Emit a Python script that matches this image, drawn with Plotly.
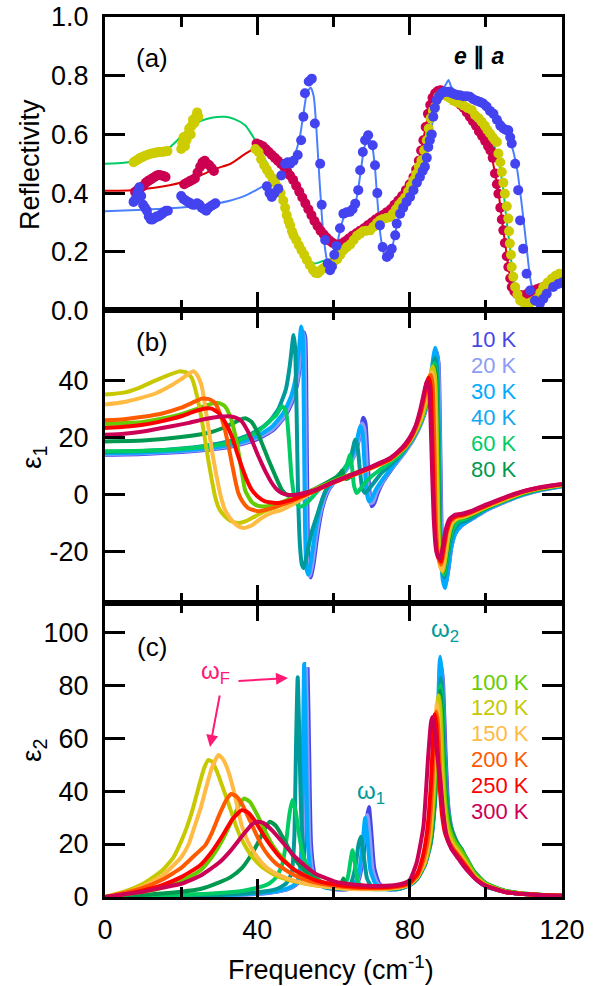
import plotly.graph_objects as go

# ---------------- panel (a) reflectivity data (frequency, R) ----------------
refl_10K_data = [(7.5,0.37),(8.0,0.38),(8.5,0.40),(9.0,0.42),(9.5,0.39),(10.0,0.36),(10.5,0.35),(11.0,0.34),(11.5,0.32),(12.0,0.31),(12.5,0.31),(13.0,0.315),(13.5,0.32),(14.0,0.32),(14.5,0.325),(15.0,0.33),(15.5,0.335),(16.0,0.34),(16.5,0.34),
    (20.0,0.39),(20.6,0.38),(21.2,0.375),(21.8,0.37),(22.4,0.365),(23.0,0.36),(23.6,0.36),(24.2,0.365),(24.8,0.36),(25.4,0.35),(26.0,0.345),(26.6,0.34),(27.2,0.35),(27.8,0.355),(28.4,0.36),(29.0,0.365),
    (42.5,0.423),(43.2,0.40),(43.8,0.387),(44.5,0.40),(45.5,0.415),(46.3,0.46),(47.3,0.50),(48.0,0.505),(48.6,0.50),(49.5,0.51),(50.6,0.53),(51.5,0.58),(52.1,0.66),(52.5,0.74),(53.5,0.78),(54.3,0.79),(55.1,0.637),(56.5,0.50),(56.9,0.36),(57.8,0.24),(58.5,0.16),(59.1,0.137),(59.6,0.15),(60.2,0.19),(60.8,0.22),(61.7,0.28),(62.6,0.33),(63.5,0.335),(64.3,0.336),(65.0,0.345),(65.7,0.364),(66.5,0.41),(67.0,0.478),(67.7,0.54),(68.3,0.58),(69.1,0.597),(70.3,0.563),(70.9,0.495),(71.5,0.40),(72.2,0.29),(72.9,0.216),(74.0,0.182),(74.6,0.19),(75.3,0.21),(76.2,0.256),(76.6,0.296),(77.5,0.33),(78.3,0.35),(79.2,0.37),(80.1,0.387),(81.0,0.41),(81.9,0.435),(82.7,0.455),(83.4,0.475),(84.0,0.49),(84.5,0.52),(84.9,0.557),(85.3,0.58),(85.8,0.60),(86.2,0.66),(86.6,0.69),(87.1,0.717),(87.7,0.73),(88.4,0.74),(89.0,0.745),(89.7,0.745),(90.4,0.745),(91.1,0.74),(91.8,0.737),(92.4,0.734),(93.2,0.733),(94.1,0.73),(95.0,0.73),(95.8,0.728),(96.7,0.72),(97.6,0.715),(98.5,0.71),(99.3,0.705),(100.2,0.695),(101.1,0.68),(102.0,0.67),(102.9,0.65),(103.8,0.63),(104.6,0.62),(105.3,0.615),(105.9,0.614),(106.4,0.59),(106.8,0.569),(107.7,0.50),(108.5,0.41),(109.0,0.307),(109.8,0.21),(110.7,0.125),(111.6,0.068),(112.9,0.034),(114.2,0.024),(115.1,0.04),(116.0,0.057),(117.7,0.08),(119.0,0.09),(120.0,0.095)]

refl_300K_data = [(7.9,0.404),(8.5,0.41),(9.1,0.415),(9.6,0.42),(10.1,0.425),(10.7,0.435),(11.2,0.44),(11.8,0.445),(12.4,0.45),(13.0,0.455),(13.6,0.46),(14.2,0.462),(14.8,0.46),(15.4,0.458),(15.9,0.455),
    (20.8,0.43),(21.5,0.435),(22.2,0.44),(22.9,0.445),(23.6,0.45),(24.3,0.47),(25.0,0.49),(25.6,0.505),(26.2,0.51),(26.8,0.50),(27.4,0.495),(28.0,0.485),(28.6,0.475),
    (39.8,0.569),(40.6,0.565),(41.4,0.56),(42.2,0.55),(43.0,0.54),(43.8,0.53),(44.6,0.52),(45.4,0.51),(46.2,0.50),(47.0,0.49),(47.8,0.475),(48.6,0.46),(49.4,0.445),(50.2,0.425),(51.0,0.405),(51.8,0.385),(52.6,0.365),(53.4,0.345),(54.2,0.325),(55.0,0.305),(55.8,0.288),(56.6,0.272),(57.4,0.26),(58.2,0.248),(59.0,0.238),(59.8,0.23),(60.6,0.225),(61.4,0.224),(62.2,0.228),(63.0,0.235),(64.0,0.245),(65.0,0.255),(66.0,0.263),(67.0,0.272),(68.0,0.28),(69.0,0.29),(70.0,0.30),(71.0,0.31),(72.0,0.318),(73.0,0.325),(74.0,0.335),(75.0,0.345),(76.0,0.36),(77.0,0.375),(78.0,0.39),(79.0,0.41),(80.0,0.43),(81.0,0.455),(81.7,0.48),(82.4,0.51),(83.0,0.545),(83.6,0.58),(84.2,0.625),(84.8,0.67),(85.4,0.70),(86.0,0.725),(86.7,0.74),(87.4,0.748),(88.1,0.75),(88.8,0.745),(89.5,0.738),(90.2,0.73),(91.0,0.725),(91.8,0.718),(92.6,0.71),(93.4,0.70),(94.2,0.69),(95.0,0.675),(95.8,0.66),(96.6,0.645),(97.4,0.63),(98.2,0.61),(99.0,0.595),(99.8,0.578),(100.6,0.56),(101.2,0.545),(101.8,0.52),(102.4,0.467),(102.9,0.43),(103.3,0.398),(103.8,0.35),(104.2,0.31),(104.6,0.273),(105.0,0.23),(105.5,0.185),(105.9,0.148),(106.4,0.11),(106.8,0.08),(107.5,0.065),(108.1,0.057),(109.0,0.053),(109.8,0.051),(110.7,0.055),(111.6,0.062),(112.5,0.068),(113.4,0.072),(114.3,0.077),(115.1,0.08),(116.0,0.088),(116.9,0.095),(117.7,0.102),(118.6,0.105),(119.5,0.105)]

refl_120K_data = [(7.5,0.505),(8.1,0.51),(8.7,0.515),(9.3,0.52),(9.9,0.523),(10.5,0.527),(11.1,0.53),(11.7,0.533),(12.3,0.535),(12.9,0.537),(13.5,0.538),(14.1,0.54),(14.7,0.54),(15.3,0.541),(15.9,0.542),(16.4,0.543),
    (20.0,0.55),(20.3,0.57),(20.6,0.59),(21.0,0.56),(21.4,0.58),(21.8,0.60),(22.1,0.62),(22.5,0.60),(22.8,0.63),(23.1,0.65),(23.5,0.64),(23.9,0.66),(24.2,0.675),(24.5,0.66),
    (39.5,0.55),(40.3,0.54),(41.0,0.515),(41.8,0.495),(42.5,0.48),(43.2,0.465),(44.0,0.45),(44.7,0.435),(45.4,0.42),(46.1,0.40),(46.8,0.375),(47.3,0.35),(47.7,0.325),(48.2,0.305),(48.6,0.29),(49.1,0.27),(49.5,0.256),(50.2,0.24),(50.9,0.222),(51.6,0.205),(52.3,0.19),(53.0,0.172),(53.8,0.154),(54.6,0.138),(55.3,0.128),(55.9,0.127),(56.5,0.135),(57.2,0.142),(57.8,0.148),(58.6,0.155),(59.4,0.162),(60.2,0.168),(61.0,0.175),(61.8,0.19),(62.6,0.205),(63.5,0.216),(64.4,0.225),(65.3,0.24),(66.2,0.255),(67.0,0.262),(67.8,0.27),(68.7,0.272),(69.6,0.273),(70.5,0.285),(71.4,0.298),(72.2,0.307),(73.0,0.312),(73.9,0.315),(74.8,0.318),(75.6,0.33),(76.4,0.345),(77.2,0.36),(78.0,0.372),(78.8,0.385),(79.6,0.405),(80.3,0.425),(81.0,0.444),(81.7,0.465),(82.4,0.49),(83.1,0.512),(83.8,0.545),(84.5,0.58),(85.0,0.62),(85.5,0.655),(86.1,0.68),(86.7,0.694),(87.5,0.728),(88.2,0.737),(88.8,0.74),(89.7,0.73),(90.6,0.723),(91.5,0.715),(92.4,0.71),(93.2,0.705),(94.2,0.698),(95.2,0.69),(96.3,0.683),(97.2,0.665),(98.1,0.655),(98.9,0.643),(99.7,0.63),(100.4,0.615),(101.1,0.603),(101.8,0.59),(102.4,0.58),(102.9,0.574),(103.3,0.535),(103.8,0.505),(104.2,0.472),(104.6,0.435),(105.0,0.398),(105.5,0.355),(105.9,0.313),(106.1,0.27),(106.3,0.228),(106.6,0.19),(106.8,0.148),(107.2,0.115),(107.7,0.08),(108.3,0.055),(109.0,0.034),(109.8,0.027),(110.7,0.023),(111.6,0.026),(112.5,0.032),(113.4,0.04),(114.3,0.06),(115.1,0.08),(116.2,0.095),(117.3,0.108),(118.3,0.118),(119.3,0.125)]

refl_10K_fit = [(0,0.338),(10,0.343),(17,0.348),(25,0.357),(29,0.364),(33,0.375),(37,0.392),(42,0.427),(45,0.45),(47.3,0.47),(49.5,0.52),(51,0.58),(52,0.66),(53,0.74),(54,0.76),(54.8,0.73),(55.5,0.62),(56.3,0.45),(57.2,0.28),(58.3,0.17),(59.3,0.14),(60.3,0.18),(61.5,0.26),(62.8,0.32),(64.5,0.34),(66,0.38),(67,0.46),(68,0.55),(69,0.59),(70,0.57),(70.8,0.50),(71.5,0.38),(72.3,0.26),(73.3,0.19),(74.3,0.18),(75.5,0.22),(77,0.31),(78.5,0.355),(81,0.41),(83,0.465),(84.5,0.53),(85.5,0.60),(86.5,0.68),(87.5,0.72),(88.5,0.75),(89.5,0.77),(90.2,0.785),(91,0.76),(92.5,0.745),(95,0.735),(98,0.72),(100,0.705),(102,0.68),(103.5,0.655),(104.8,0.635),(106.4,0.58),(108.1,0.49),(109.4,0.364),(110.7,0.216),(111.6,0.114),(112.5,0.06),(113.5,0.035),(114.5,0.035),(116,0.055),(118,0.08),(120,0.095)]
refl_300K_fit = [(0,0.408),(7,0.41),(13,0.418),(20,0.436),(25,0.46),(29,0.483),(33,0.50),(37,0.535),(39.8,0.555),(42,0.55),(45,0.52),(48,0.475),(51,0.405),(54,0.33),(57,0.262),(59,0.235),(61,0.225),(63,0.235),(67,0.27),(71,0.31),(75,0.345),(78,0.39),(81,0.455),(83,0.545),(84.5,0.645),(86,0.725),(88,0.75),(90.5,0.73),(93,0.705),(96,0.655),(98.5,0.60),(101,0.548),(102.4,0.47),(103.5,0.385),(104.6,0.273),(106,0.145),(107,0.075),(108.5,0.055),(110,0.05),(112.5,0.065),(115,0.08),(118,0.10),(120,0.105)]
refl_120K_fit = [(0,0.50),(5,0.503),(8.8,0.512),(12,0.528),(16.6,0.552),(19,0.58),(21.9,0.62),(25,0.645),(28,0.657),(31.5,0.66),(34,0.652),(36.8,0.631),(38.5,0.60),(39.4,0.58),(42,0.515),(45,0.43),(47.5,0.33),(49.5,0.26),(51.5,0.21),(53.5,0.17),(55.1,0.16),(57.5,0.17),(60.5,0.18),(64,0.225),(67,0.262),(70,0.28),(73,0.31),(76,0.335),(79,0.395),(81.5,0.46),(83.5,0.54),(85,0.63),(86.5,0.69),(88,0.73),(89.5,0.725),(91,0.715),(93.2,0.70),(96,0.68),(99,0.64),(101,0.60),(102.5,0.55),(103.5,0.50),(104.5,0.42),(105.5,0.30),(106.3,0.22),(107,0.13),(108,0.07),(109.5,0.035),(111,0.025),(113.5,0.04),(115.5,0.08),(118,0.11),(120,0.12)]

# ---------------- panel (b) epsilon_1 (frequency, eps1) ----------------
eps1_10K = [(0,14),(10,14.3),(20,15),(30,16.2),(36,17.8),(40,19.5),(44,22.5),(47,27),(49,32),(50.5,39),(51.5,48),(52.2,57),(52.6,55),(52.9,30),(53.2,-10),(53.6,-27),(54.1,-29),(54.8,-24),(55.8,-14),(57,-5),(58.5,1),(60,4),(62,6.5),(64,10),(65.5,14),(66.8,20),(67.8,27),(68.4,25),(68.9,14),(69.4,2),(70,-4),(70.7,-3),(71.6,0.5),(73,4.5),(75,8.5),(77,12),(79,15.5),(81,19.5),(83,25),(84.5,31),(85.8,40),(86.6,47),(87.1,50),(87.6,46),(88,20),(88.4,-15),(88.9,-28),(89.5,-31),(90.2,-26),(91,-18),(92,-13.5),(93.5,-11),(95,-9.5),(97,-8),(100,-5.5),(105,-2.5),(110,0),(115,1.8),(120,3)]
eps1_20K = [(0,14.2),(10,14.5),(20,15.2),(30,16.5),(36,18),(40,20),(44,23),(47,27.5),(49,33),(50.5,40),(51.3,49),(51.9,57),(52.3,55),(52.6,30),(52.9,-10),(53.3,-27),(53.8,-28.5),(54.5,-24),(55.5,-14),(56.8,-5),(58.3,1),(60,4.2),(62,6.5),(64,10),(65.5,14),(66.6,19.5),(67.5,25),(68.1,23),(68.6,13),(69.1,2),(69.7,-3),(70.4,-2.5),(71.3,0.8),(73,4.8),(75,8.8),(77,12),(79,15.5),(81,19.5),(83,25),(84.5,31),(85.7,40),(86.5,47),(87.0,50),(87.5,46),(87.9,20),(88.3,-15),(88.8,-28),(89.4,-31),(90.1,-26),(91,-18),(92,-13.5),(93.5,-11),(95,-9.5),(97,-8),(100,-5.5),(105,-2.5),(110,0),(115,1.8),(120,3)]
eps1_30K = [(0,14.5),(10,14.8),(20,15.5),(30,16.8),(36,18.5),(40,20.5),(44,24),(47,29),(49,35),(50.3,43),(51,52),(51.5,59),(51.9,56),(52.2,30),(52.5,-10),(52.9,-26),(53.4,-28),(54.1,-23),(55.2,-13),(56.5,-4.5),(58,1.5),(60,4.5),(62,7),(64,11),(65.3,15),(66.3,20),(67,24),(67.6,22),(68.1,12),(68.7,1),(69.3,-2.3),(70,-1.5),(71,1.5),(73,5.5),(75,9),(77,12.5),(79,16),(81,20),(83,25.5),(84.5,32),(85.6,42),(86.3,49),(86.7,51.5),(87.2,48),(87.7,20),(88.1,-15),(88.7,-30),(89.3,-32.7),(90,-27),(90.8,-19),(91.8,-14),(93.3,-11),(95,-9.5),(97,-7.8),(100,-5.3),(105,-2.3),(110,0.2),(115,2),(120,3)]
eps1_40K = [(0,15),(10,15.3),(20,16.2),(30,18),(36,20),(40,22.5),(43,25.5),(45.5,30),(47.5,37),(48.5,45),(49.1,52),(49.5,56),(49.9,52),(50.3,30),(50.7,0),(51.2,-18),(51.7,-24.5),(52.2,-25.7),(53,-21),(54.3,-13),(55.6,-7.6),(57.2,-1),(59,4),(61,6.5),(63,9.5),(64.5,13),(65.7,19.3),(66.3,17),(66.9,9),(67.6,2),(68.3,0.6),(69,1.5),(70.5,4),(72.5,7.5),(75,10.5),(77,13),(79,16.3),(81,20.3),(83,26),(84.5,32.5),(85.5,40),(86.2,46),(86.6,48),(87.1,45),(87.6,20),(88,-12),(88.5,-26),(89.1,-29),(89.8,-24),(90.6,-17),(91.6,-12.5),(93,-10),(95,-9),(97,-7.5),(100,-5),(105,-2.2),(110,0.3),(115,2),(120,3.1)]
eps1_60K = [(0,15.2),(10,15.4),(20,16),(30,17.5),(35,19),(40,22),(43,25.5),(45,28),(46.5,31),(47.5,29.5),(48.3,19),(49,6),(50,-2.5),(51.2,-4.2),(52.5,-3.5),(54,-1.5),(56,1.5),(58,4),(60,5.5),(62,7.5),(63.5,10.5),(64.3,14),(64.8,10.5),(65.4,3),(66.1,0.6),(67,2),(68.5,4.5),(70,6.5),(72,8.5),(75,11.5),(77,13.5),(79,16.5),(81,20.5),(83,26),(84.5,32.5),(85.5,40),(86.1,45),(86.5,46),(87,43),(87.5,18),(87.9,-12),(88.4,-25),(89,-28),(89.7,-23),(90.5,-16),(91.5,-11.5),(93,-9),(94.5,-8.5),(96,-7.5),(100,-4.8),(105,-2),(110,0.5),(115,2.2),(120,3.2)]
eps1_80K = [(0,18.7),(10,19),(20,20.2),(28,22),(32,24),(35,26),(36.8,26.8),(38.5,25.5),(40,22),(41.5,17),(43,12),(44.6,7),(46.4,1.8),(48,-0.3),(49.5,-0.8),(51,-0.5),(53,0.7),(55,2),(58,4),(60,5.5),(61.5,6.8),(62.3,8.5),(62.8,6),(63.5,5.5),(65,6.8),(67,8),(70,9.5),(73,11.2),(76,13.5),(79,16.8),(81,20.5),(83,26),(84.5,32.5),(85.5,40),(86,44),(86.4,45),(86.9,42),(87.4,18),(87.8,-12),(88.3,-24),(88.9,-27),(89.6,-22),(90.4,-15),(91.4,-10),(92.5,-8.5),(94,-8),(96,-7.3),(100,-4.6),(105,-1.8),(110,0.6),(115,2.3),(120,3.3)]
eps1_100K = [(0,24.8),(10,25.5),(18,27.5),(24,30),(27,31.5),(29.8,32.2),(31.5,31),(33,27),(34.5,19),(35.8,9),(36.8,1.5),(38.5,-2.5),(40,-3.8),(42,-4.1),(45,-3.3),(48,-1.8),(51,-0.3),(55,1.8),(60,4.8),(65,7.3),(70,9.5),(75,12.5),(79,16.8),(81,20.5),(83,26),(84.5,33),(85.4,40),(85.9,43),(86.2,44),(86.7,41),(87.2,18),(87.6,-12),(88.1,-24),(88.7,-27),(89.4,-22),(90.2,-15),(91.2,-10),(92.5,-8.5),(94,-8),(96,-7),(100,-4.5),(105,-1.8),(110,0.7),(115,2.3),(120,3.3)]
eps1_120K = [(0,35.1),(5,35.8),(8.8,37.4),(12,39.3),(15.8,41.5),(19.7,43.3),(21.5,42.8),(22.8,40.9),(24,35.5),(25.4,26.3),(26.3,19),(27.1,12.3),(28,5.5),(28.9,-0.6),(30,-5),(31.5,-7.6),(33,-9.2),(35,-9.9),(37,-9.3),(39.4,-7.6),(42,-5.8),(45.5,-4.1),(50.7,-0.6),(55,1.8),(60,4.5),(65,7),(70,9.5),(75,12.5),(79,17),(81,21),(83,26.5),(84.5,34),(85.4,41),(85.8,44),(86.1,45),(86.6,42),(87.1,18),(87.5,-12),(88,-25),(88.7,-27),(89.4,-22),(90.2,-14.5),(91.2,-10),(92.5,-8.3),(94,-7.8),(96,-6.8),(100,-4.4),(105,-1.7),(110,0.8),(115,2.4),(120,3.4)]
eps1_150K = [(0,31.6),(5,32.5),(9,33.8),(13.1,35.4),(17,38),(20,40.5),(23.2,43.3),(24.4,41.5),(25.4,38),(26.3,31),(27.1,24),(28.2,14.5),(29.3,6.4),(30.3,0),(31.5,-5.3),(33,-8.5),(34.7,-10.8),(36.3,-11.7),(38.5,-10.8),(41.1,-8.2),(43.5,-6.5),(46.4,-5.3),(50.7,-2.3),(55,1.3),(60,4.3),(65,6.8),(70,9.3),(75,12.3),(79,17),(81,21),(82.8,27),(84.2,34),(85.1,40),(85.5,42.3),(85.8,43),(86.3,40),(86.8,16),(87.2,-12),(87.8,-24),(88.5,-26.5),(89.2,-21),(90,-14),(91,-9.8),(92.5,-8),(94,-7.6),(96,-6.6),(100,-4.2),(105,-1.5),(110,1),(115,2.5),(120,3.5)]
eps1_200K = [(0,26.1),(5,26.5),(10,27.3),(15,28.5),(20,30.5),(23,32.3),(25.4,33.7),(27.3,33.5),(28.9,32.2),(30.3,28),(31.5,22.8),(32.5,16.5),(33.3,11.1),(34.2,5),(35,0.6),(36.2,-2.6),(37.6,-4.7),(40.3,-5.8),(43.8,-4.7),(46.5,-3.5),(49,-2.3),(52,-0.5),(55,1.3),(60,4.3),(65,6.9),(70,9.5),(75,12.5),(79,17.2),(81,21.5),(82.6,27),(83.9,34),(84.8,40),(85.2,41.5),(85.5,42),(86,39),(86.5,16),(86.9,-10),(87.5,-22),(88.3,-24.5),(89,-19.5),(89.8,-13),(90.8,-9.2),(92.3,-7.7),(94,-7.3),(96,-6.4),(100,-4),(105,-1.3),(110,1.1),(115,2.6),(120,3.6)]
eps1_250K = [(0,23.4),(5,23.8),(10,24.5),(15,25.8),(20,27.5),(23.5,29.2),(26.3,30.2),(28,30.2),(29.8,28.7),(31.5,25.5),(33.3,20.5),(34.6,15),(35.9,9.9),(37.2,5.3),(38.5,1.8),(40,-0.5),(42,-2.3),(45.5,-2.9),(49,-1.8),(52,-0.3),(55,1.3),(60,4.3),(65,6.9),(70,9.6),(75,12.7),(79,17.5),(81,22),(82.4,27),(83.6,33.5),(84.4,39),(84.8,40.5),(85,41),(85.5,38),(86,16),(86.5,-8),(87.1,-20),(88.2,-23.5),(88.9,-18.5),(89.7,-12.5),(90.7,-8.8),(92.2,-7.4),(94,-7),(96,-6.1),(100,-3.8),(105,-1.1),(110,1.2),(115,2.7),(120,3.7)]
eps1_300K = [(0,21),(5,21.4),(10,22.2),(17.5,24),(22,25.2),(27,26.7),(30,27.3),(32.4,27.5),(34.3,27),(35.9,25.7),(37.2,23),(38.5,19.3),(39.8,15),(41.1,11.1),(42.5,7.2),(43.8,4.1),(45,2),(46.4,0.6),(48,0),(49.9,0),(52,0.5),(55,1.6),(60,4.5),(65,7.2),(70,9.9),(75,13),(78,16.5),(80,20),(81.5,24),(82.8,30),(83.8,36),(84.5,39.8),(85,38.5),(85.4,30),(85.8,12),(86.3,-8),(86.9,-19),(87.5,-22),(88,-22.2),(88.7,-18),(89.5,-12),(90.5,-8.5),(92,-7),(94,-6.6),(96,-5.8),(100,-3.5),(105,-0.9),(110,1.3),(115,2.8),(120,3.8)]

# ---------------- panel (c) epsilon_2 (frequency, eps2) ----------------
eps2_10K = [(0,0),(20,0.3),(30,0.6),(40,1.2),(45,2),(48,3),(50,4.5),(51.5,7),(52.3,18),(52.8,55),(53.2,86),(53.6,55),(54.1,20),(55,9),(56.5,5),(60,3),(63,2.8),(65,3.5),(66.5,6),(67.8,15),(68.8,30),(69.3,34),(69.9,25),(70.7,11),(72,5),(74,3),(77,3),(80,4.5),(82,7),(84,12),(85.5,20),(86.6,35),(87.5,62),(88.1,84),(88.4,87),(88.8,80),(89.4,55),(90.1,35),(91,26),(92.5,20.5),(94,16.5),(96,10.5),(98,6.2),(100,4),(105,2),(110,1.1),(115,0.7),(120,0.5)]
eps2_20K = [(0,0),(20,0.3),(30,0.6),(40,1.3),(45,2.1),(48,3.1),(50,4.7),(51.3,7.5),(52,18),(52.5,55),(52.8,86),(53.2,55),(53.7,20),(54.6,9),(56,5),(60,3),(63,2.8),(65,3.6),(66.4,6.5),(67.5,15),(68.4,28),(68.9,31),(69.5,23),(70.3,10),(71.6,5),(74,3),(77,3),(80,4.5),(82,7),(84,12.3),(85.5,20.5),(86.6,36),(87.5,64),(88,85),(88.2,88),(88.6,82),(89.2,56),(89.9,36),(90.8,26.5),(92.3,20.8),(93.8,17),(96,10.8),(98,6.2),(100,4),(105,2),(110,1.1),(115,0.7),(120,0.5)]
eps2_30K = [(0,0),(20,0.3),(30,0.7),(40,1.4),(45,2.2),(48,3.3),(50,5),(51,8),(51.6,20),(52,60),(52.3,88),(52.7,60),(53.2,22),(54,10),(55.5,5.5),(58,3.5),(62,3),(65,4),(66.5,8),(67.5,18),(68.3,29.8),(68.9,22),(69.7,10),(71,5),(73,3.2),(77,3),(80,4.5),(82,7),(84,12.5),(85.5,21),(86.6,38),(87.4,68),(87.8,87),(88,90.7),(88.4,85),(89,58),(89.7,37),(90.6,27),(92,21),(93.5,17.5),(95.5,11.5),(98,6),(100,4),(105,2),(110,1.1),(115,0.7),(120,0.5)]
eps2_40K = [(0,0),(20,0.4),(30,0.8),(40,1.8),(45,3),(47.5,5),(49,9),(49.7,22),(50.2,60),(50.6,83),(51,62),(51.6,28),(52.5,13),(54,7),(56,4.5),(60,3.2),(63,3.2),(64.5,5),(65.7,11),(66.6,20),(67.2,22.8),(67.9,16),(68.8,7),(70,4),(73,3),(77,3),(80,4.5),(82,7),(84,12.5),(85.5,21),(86.6,37),(87.5,66),(88,80),(88.2,82.6),(88.6,77),(89.2,52),(89.9,35),(90.8,26),(92.2,21),(93.7,18),(95.5,12),(98,6.3),(100,4.2),(105,2),(110,1.1),(115,0.7),(120,0.5)]
eps2_60K = [(0,0),(20,0.8),(30,1.5),(36,2.3),(40,3.5),(43,5),(45,7.5),(46.5,12),(47.5,20),(48.4,31),(49.2,36.6),(50,33),(50.8,25),(51.8,17),(53,12),(55,8),(57,5.5),(60,4),(62.5,3.8),(63.7,7),(64.5,14),(65,17.7),(65.6,13),(66.4,6),(67.5,3.5),(70,3),(74,3),(78,3.8),(80,4.7),(82,7),(84,12.5),(85.5,21),(86.6,37),(87.4,63),(87.9,78),(88.1,80),(88.5,74),(89.1,50),(89.8,35),(90.7,27),(92,21.5),(93.5,18),(95,14),(97,9),(100,5),(105,2.3),(110,1.2),(115,0.8),(120,0.6)]
eps2_80K = [(0,0),(10,0.8),(20,2),(25,3),(30,5.5),(33,7.5),(36,11),(38,15),(40,20),(42,26),(43.3,28.4),(44.8,27),(46.5,23),(48,19),(50,14),(52,10.5),(55,7),(58,5),(61,4),(62,5),(62.6,7),(63.2,5),(64.5,3.6),(67,3.2),(70,3.2),(74,3.3),(78,3.9),(80,4.8),(82,7),(84,12.5),(85.5,21),(86.6,37),(87.4,62),(87.9,76),(88,78),(88.4,72),(89,50),(89.7,35),(90.6,27),(92,21.5),(93.5,18),(95,14.5),(97,9.5),(100,5.2),(105,2.4),(110,1.3),(115,0.8),(120,0.6)]
eps2_100K = [(0,0),(10,2),(15,3.5),(20,6),(25,10),(28,15),(31,22),(34,31),(35.5,35.5),(36.6,37.2),(38,36),(40,31),(42,25),(44,19.5),(47,14),(50,10),(55,6.5),(60,4.5),(65,3.5),(70,3.3),(75,3.5),(78,4),(80,5),(82,7.5),(84,13),(85.3,21),(86.4,38),(87.2,62),(87.6,74),(87.8,76),(88.2,70),(88.8,49),(89.5,34),(90.4,26),(91.8,21),(93.3,18),(95,14),(97,9),(100,5),(105,2.3),(110,1.2),(115,0.8),(120,0.6)]
eps2_120K = [(0,0),(5,2),(10,5),(15,10),(18,15),(20,21),(21.4,26),(23,33),(24.5,41),(26,48.5),(27.1,51.7),(28.2,51),(29.5,47),(31,41),(32.5,35),(34.6,26),(36,21.5),(38,16.5),(40,13),(42,10.5),(45.5,7.7),(50,5.8),(55,4.4),(60,3.6),(65,3.1),(70,3),(75,3.3),(78,3.9),(80,4.8),(82,7.5),(84,13),(85.3,22),(86.3,40),(86.9,62),(87.3,73),(87.5,76.2),(87.9,71),(88.5,50),(89.2,34),(90.1,25),(91.5,20),(93,17),(95,12.5),(97,8),(100,4.5),(105,2),(110,1.1),(115,0.7),(120,0.5)]
eps2_150K = [(0,0),(5,1.5),(10,4),(15,8),(18,12),(20,15),(22,20),(23.6,27),(25,33),(26.5,41),(28,48.5),(29.8,53.6),(31,52),(32.5,47),(34,39),(35.9,27),(37.5,21),(40,15),(42.5,11),(45,8.8),(50,6),(55,4.5),(60,3.5),(65,3),(70,2.9),(75,3.2),(78,3.8),(80,4.7),(82,7.5),(83.8,13),(85.1,22),(86,40),(86.6,62),(87,71),(87.1,73.2),(87.5,69),(88.1,48),(88.8,33),(89.7,24.5),(91.2,19.5),(92.8,16.5),(95,12),(97,7.8),(100,4.4),(105,2),(110,1.1),(115,0.7),(120,0.5)]
eps2_200K = [(0,0),(5,1.5),(10,3.5),(15,6.5),(20,11),(23,15),(26.3,19.5),(28,24),(30,31),(31.8,36.5),(33.1,38.9),(34.5,38),(36,35),(38,29),(41.1,19.5),(43,15.5),(45,12.5),(50,8),(55,5.5),(60,4.2),(65,3.5),(70,3.3),(75,3.5),(78,4.1),(80,5),(82,8),(83.6,14),(84.9,23),(85.9,41),(86.5,62),(86.9,68.5),(87,70),(87.4,66),(88,47),(88.7,32),(89.6,24),(91.1,19),(92.7,16),(95,11.5),(97,7.5),(100,4.3),(105,2),(110,1.1),(115,0.7),(120,0.5)]
eps2_250K = [(0,0),(5,1),(10,2.5),(15,4.5),(20,7.5),(25,12),(28,17),(31,23.5),(33.5,29.5),(35.9,32.8),(37.5,32),(39.5,28.5),(42,22.5),(44,18.5),(46,15),(50,10),(55,6.5),(60,4.8),(65,4),(70,3.7),(75,3.9),(78,4.5),(80,5.5),(82,8.8),(83.4,15),(84.6,25),(85.6,43),(86.2,62),(86.5,68),(86.6,69),(87,65),(87.7,46),(88.5,31),(89.4,23.5),(91,18.5),(92.6,15.5),(95,11),(97,7.2),(100,4.2),(105,1.9),(110,1.1),(115,0.7),(120,0.5)]
eps2_300K = [(0,0),(5,1),(10,2),(15,3.5),(20,5),(25,8),(30,13),(33,17.5),(36,23),(38.5,27.3),(39.8,28.4),(41.5,28),(44,25),(47,20),(50,15),(55,9),(60,6),(65,4.7),(70,4.2),(75,4.3),(78,5),(80,6.4),(81.8,12.8),(83.6,26.5),(84.9,54),(85.6,66),(86,68),(86.5,64),(87.2,54),(88,45),(88.8,32),(89.7,23),(91,18),(92.4,15.2),(94,12),(95.8,8.9),(98.5,5.3),(100,4.2),(105,1.9),(110,1.1),(115,0.7),(120,0.5)]

temps = ["10 K", "20 K", "30 K", "40 K", "60 K", "80 K", "100 K", "120 K", "150 K", "200 K", "250 K", "300 K"]
curve_colors = ["#4646e8", "#8c9cf7", "#00aaff", "#009a9a", "#00cc66", "#00994f",
                "#66cc00", "#c8c800", "#ffbb44", "#ff5a00", "#ff0000", "#cc0055"]
label_colors = ["#4646e8", "#8c9cf7", "#00aaff", "#10a8f0", "#00cc66", "#00994f",
                "#66cc00", "#c8c800", "#ffbb44", "#ff5a00", "#ff0000", "#cc0055"]
eps1_curves = [eps1_10K, eps1_20K, eps1_30K, eps1_40K, eps1_60K, eps1_80K,
               eps1_100K, eps1_120K, eps1_150K, eps1_200K, eps1_250K, eps1_300K]
eps2_curves = [eps2_10K, eps2_20K, eps2_30K, eps2_40K, eps2_60K, eps2_80K,
               eps2_100K, eps2_120K, eps2_150K, eps2_200K, eps2_250K, eps2_300K]

W, H = 598, 986
L, R, T, B = 105, 36, 17, 89
PW, PH = W - L - R, H - T - B


def xs(pts):
    return [p[0] for p in pts]


def ys(pts):
    return [p[1] for p in pts]


def P(px, py):
    return (px - L) / PW, (H - B - py) / PH


fig = go.Figure()

# panel (a): fits first, then data
for pts, col in [(refl_120K_fit, "#00cc66"), (refl_300K_fit, "#dd0000"), (refl_10K_fit, "#4a80ff")]:
    fig.add_trace(go.Scatter(x=xs(pts), y=ys(pts), mode="lines", line=dict(color=col, width=2, shape="spline", smoothing=0.6),
                             xaxis="x", yaxis="y", showlegend=False, hoverinfo="skip"))
for pts, col in [(refl_300K_data, "#cc0050"), (refl_120K_data, "#cccc00"), (refl_10K_data, "#4343f0")]:
    fig.add_trace(go.Scatter(x=xs(pts), y=ys(pts), mode="markers", marker=dict(color=col, size=10, line=dict(width=0)),
                             xaxis="x", yaxis="y", showlegend=False, hoverinfo="skip"))

for pts, col in zip(eps1_curves, curve_colors):
    fig.add_trace(go.Scatter(x=xs(pts), y=ys(pts), mode="lines", line=dict(color=col, width=4, shape="spline", smoothing=0.5),
                             xaxis="x2", yaxis="y2", showlegend=False))
for pts, col in zip(eps2_curves, curve_colors):
    fig.add_trace(go.Scatter(x=xs(pts), y=ys(pts), mode="lines", line=dict(color=col, width=4, shape="spline", smoothing=0.5),
                             xaxis="x3", yaxis="y3", showlegend=False))

axis_common = dict(showline=True, linewidth=3, linecolor="black", mirror="ticks", ticks="inside",
                   tickcolor="black", tickwidth=2.5, showgrid=False, zeroline=False, automargin=False)
xcommon = dict(axis_common, range=[0, 120], tick0=0, dtick=40, ticklen=18,
               minor=dict(tick0=0, dtick=20, ticks="inside", ticklen=10, tickwidth=2.5, tickcolor="black", showgrid=False))

fig.update_layout(
    width=W, height=H, margin=dict(l=L, r=R, t=T, b=B, autoexpand=False),
    paper_bgcolor="white", plot_bgcolor="white",
    font=dict(family="Liberation Sans, Arial, sans-serif", size=27, color="black"),
    xaxis=dict(xcommon, anchor="y", showticklabels=False),
    xaxis2=dict(xcommon, anchor="y2", showticklabels=False, matches="x"),
    xaxis3=dict(xcommon, anchor="y3", showticklabels=True, matches="x", ticklabelstandoff=7),
    yaxis=dict(axis_common, domain=[0.6665, 1.0], range=[0, 1.0], tickvals=[0, 0.2, 0.4, 0.6, 0.8, 1.0],
               ticktext=["0.0", "0.2", "0.4", "0.6", "0.8", "1.0"], ticklen=20, anchor="x", ticklabelstandoff=8),
    yaxis2=dict(axis_common, domain=[0.334, 0.6665], range=[-38, 64.6], tickvals=[-20, 0, 20, 40],
                ticktext=["-20", "0", "20", "40"], ticklen=20, anchor="x2", ticklabelstandoff=8),
    yaxis3=dict(axis_common, domain=[0.0, 0.334], range=[0, 111], tickvals=[0, 20, 40, 60, 80, 100],
                ticktext=["0", "20", "40", "60", "80", "100"], ticklen=20, anchor="x3", ticklabelstandoff=8),
    showlegend=False,
)

ann = []


def text(px, py, s, size, color="black", angle=0):
    x, y = P(px, py)
    ann.append(dict(x=x, y=y, xref="paper", yref="paper", text=s, showarrow=False, textangle=angle,
                    font=dict(size=size, color=color), xanchor="center", yanchor="middle"))


text(152, 58, "(a)", 26)
text(152, 342, "(b)", 26)
text(152, 647, "(c)", 26)
text(479, 57, "<b><i>e</i> ∥ <i>a</i></b>", 23)
text(30, 165, "Reflectivity", 27, angle=-90)
text(33, 458, "ε<sub>1</sub>", 28, angle=-90)
text(33, 751, "ε<sub>2</sub>", 28, angle=-90)
text(331, 968, "Frequency (cm<sup>-1</sup>)", 27)

for i in range(6):
    text(494, 339 + 26 * i, temps[i], 22, label_colors[i])
for i in range(6):
    text(500, 682 + 25.8 * i, temps[6 + i], 22, label_colors[6 + i])

text(445, 630, "ω<sub>2</sub>", 24, "#009a9a")
text(371, 792, "ω<sub>1</sub>", 24, "#009a9a")
text(215, 672, "ω<sub>F</sub>", 24, "#ff1a75")

for head, tail in [((210, 747), (220, 694)), ((288, 678), (237, 681))]:
    hx, hy = P(*head)
    ann.append(dict(x=hx, y=hy, xref="paper", yref="paper", text="", showarrow=True,
                    ax=tail[0] - head[0], ay=tail[1] - head[1], arrowhead=2, arrowsize=1.2,
                    arrowwidth=2, arrowcolor="#ff1a75"))

fig.update_layout(annotations=ann)
fig.write_html("out.html", config={"displayModeBar": False},
               post_script="document.body.style.margin='0';document.body.style.padding='0';")
